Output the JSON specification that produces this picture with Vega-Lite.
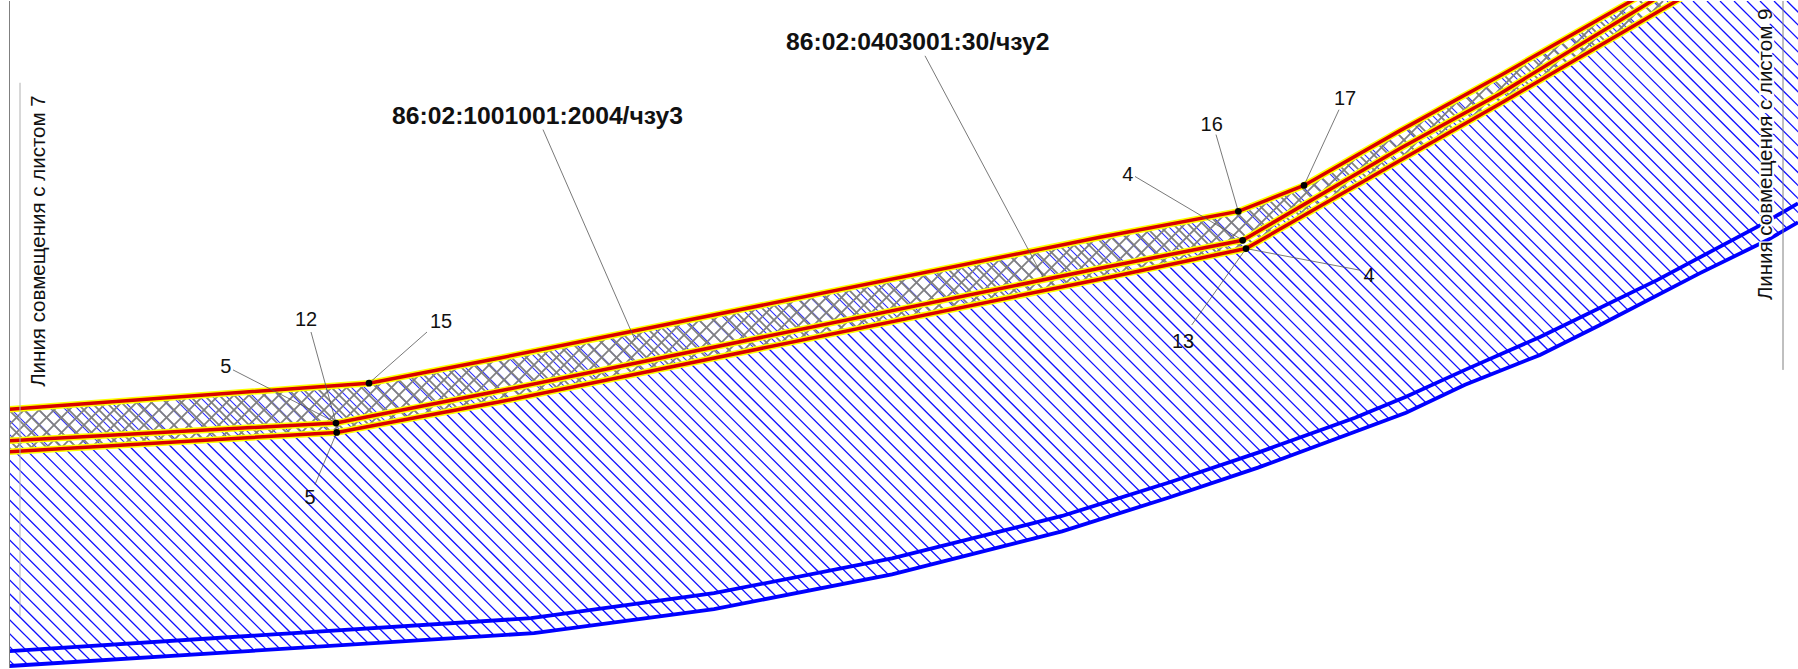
{"$schema":"https://vega.github.io/schema/vega-lite/v6.json","width":1798,"height":669,"padding":0,"autosize":{"type":"fit","contains":"padding"},"background":"white","config":{"view":{"stroke":null}},
"datasets":{
"blue":[{"x":-665,"x2":4},{"x":-652,"x2":17},{"x":-638,"x2":31},{"x":-625,"x2":44},{"x":-611,"x2":58},{"x":-598,"x2":71},{"x":-585,"x2":84},{"x":-571,"x2":98},{"x":-558,"x2":111},{"x":-544,"x2":125},{"x":-531,"x2":138},{"x":-518,"x2":151},{"x":-504,"x2":165},{"x":-491,"x2":178},{"x":-477,"x2":192},{"x":-464,"x2":205},{"x":-451,"x2":218},{"x":-437,"x2":232},{"x":-424,"x2":245},{"x":-410,"x2":259},{"x":-397,"x2":272},{"x":-384,"x2":285},{"x":-370,"x2":299},{"x":-357,"x2":312},{"x":-343,"x2":326},{"x":-330,"x2":339},{"x":-317,"x2":352},{"x":-303,"x2":366},{"x":-290,"x2":379},{"x":-276,"x2":393},{"x":-263,"x2":406},{"x":-250,"x2":419},{"x":-236,"x2":433},{"x":-223,"x2":446},{"x":-209,"x2":460},{"x":-196,"x2":473},{"x":-183,"x2":486},{"x":-169,"x2":500},{"x":-156,"x2":513},{"x":-142,"x2":527},{"x":-129,"x2":540},{"x":-116,"x2":553},{"x":-102,"x2":567},{"x":-89,"x2":580},{"x":-75,"x2":594},{"x":-62,"x2":607},{"x":-49,"x2":620},{"x":-35,"x2":634},{"x":-22,"x2":647},{"x":-8,"x2":661},{"x":5,"x2":674},{"x":18,"x2":687},{"x":32,"x2":701},{"x":45,"x2":714},{"x":59,"x2":728},{"x":72,"x2":741},{"x":85,"x2":754},{"x":99,"x2":768},{"x":112,"x2":781},{"x":126,"x2":795},{"x":139,"x2":808},{"x":152,"x2":821},{"x":166,"x2":835},{"x":179,"x2":848},{"x":193,"x2":862},{"x":206,"x2":875},{"x":219,"x2":888},{"x":233,"x2":902},{"x":246,"x2":915},{"x":260,"x2":929},{"x":273,"x2":942},{"x":286,"x2":955},{"x":300,"x2":969},{"x":313,"x2":982},{"x":327,"x2":996},{"x":340,"x2":1009},{"x":353,"x2":1022},{"x":367,"x2":1036},{"x":380,"x2":1049},{"x":394,"x2":1063},{"x":407,"x2":1076},{"x":420,"x2":1089},{"x":434,"x2":1103},{"x":447,"x2":1116},{"x":461,"x2":1130},{"x":474,"x2":1143},{"x":487,"x2":1156},{"x":501,"x2":1170},{"x":514,"x2":1183},{"x":528,"x2":1197},{"x":541,"x2":1210},{"x":554,"x2":1223},{"x":568,"x2":1237},{"x":581,"x2":1250},{"x":595,"x2":1264},{"x":608,"x2":1277},{"x":621,"x2":1290},{"x":635,"x2":1304},{"x":648,"x2":1317},{"x":662,"x2":1331},{"x":675,"x2":1344},{"x":688,"x2":1357},{"x":702,"x2":1371},{"x":715,"x2":1384},{"x":729,"x2":1398},{"x":742,"x2":1411},{"x":755,"x2":1424},{"x":769,"x2":1438},{"x":782,"x2":1451},{"x":796,"x2":1465},{"x":809,"x2":1478},{"x":822,"x2":1491},{"x":836,"x2":1505},{"x":849,"x2":1518},{"x":863,"x2":1532},{"x":876,"x2":1545},{"x":889,"x2":1558},{"x":903,"x2":1572},{"x":916,"x2":1585},{"x":930,"x2":1599},{"x":943,"x2":1612},{"x":956,"x2":1625},{"x":970,"x2":1639},{"x":983,"x2":1652},{"x":997,"x2":1666},{"x":1010,"x2":1679},{"x":1023,"x2":1692},{"x":1037,"x2":1706},{"x":1050,"x2":1719},{"x":1064,"x2":1733},{"x":1077,"x2":1746},{"x":1090,"x2":1759},{"x":1104,"x2":1773},{"x":1117,"x2":1786},{"x":1131,"x2":1800},{"x":1144,"x2":1813},{"x":1157,"x2":1826},{"x":1171,"x2":1840},{"x":1184,"x2":1853},{"x":1198,"x2":1867},{"x":1211,"x2":1880},{"x":1224,"x2":1893},{"x":1238,"x2":1907},{"x":1251,"x2":1920},{"x":1265,"x2":1934},{"x":1278,"x2":1947},{"x":1291,"x2":1960},{"x":1305,"x2":1974},{"x":1318,"x2":1987},{"x":1332,"x2":2001},{"x":1345,"x2":2014},{"x":1358,"x2":2027},{"x":1372,"x2":2041},{"x":1385,"x2":2054},{"x":1399,"x2":2068},{"x":1412,"x2":2081},{"x":1425,"x2":2094},{"x":1439,"x2":2108},{"x":1452,"x2":2121},{"x":1466,"x2":2135},{"x":1479,"x2":2148},{"x":1492,"x2":2161},{"x":1506,"x2":2175},{"x":1519,"x2":2188},{"x":1533,"x2":2202},{"x":1546,"x2":2215},{"x":1559,"x2":2228},{"x":1573,"x2":2242},{"x":1586,"x2":2255},{"x":1600,"x2":2269},{"x":1613,"x2":2282},{"x":1626,"x2":2295},{"x":1640,"x2":2309},{"x":1653,"x2":2322},{"x":1667,"x2":2336}],
"blueLow":[{"x":-665,"y":0,"x2":4,"y2":669},{"x":-652,"y":0,"x2":17,"y2":669},{"x":-638,"y":0,"x2":31,"y2":669},{"x":-625,"y":0,"x2":44,"y2":669},{"x":-611,"y":0,"x2":58,"y2":669},{"x":-598,"y":0,"x2":71,"y2":669},{"x":-585,"y":0,"x2":84,"y2":669},{"x":-571,"y":0,"x2":98,"y2":669},{"x":-558,"y":0,"x2":111,"y2":669},{"x":-544,"y":0,"x2":125,"y2":669},{"x":-531,"y":0,"x2":138,"y2":669},{"x":-518,"y":0,"x2":151,"y2":669},{"x":-504,"y":0,"x2":165,"y2":669},{"x":-491,"y":0,"x2":178,"y2":669},{"x":-477,"y":0,"x2":192,"y2":669},{"x":-464,"y":0,"x2":205,"y2":669},{"x":-451,"y":0,"x2":218,"y2":669},{"x":15,"y":452,"x2":232,"y2":669},{"x":27,"y":451,"x2":245,"y2":669},{"x":40,"y":450,"x2":259,"y2":669},{"x":53,"y":450,"x2":272,"y2":669},{"x":65,"y":449,"x2":285,"y2":669},{"x":78,"y":448,"x2":299,"y2":669},{"x":90,"y":447,"x2":312,"y2":669},{"x":104,"y":447,"x2":326,"y2":669},{"x":116,"y":446,"x2":339,"y2":669},{"x":128,"y":445,"x2":352,"y2":669},{"x":141,"y":444,"x2":366,"y2":669},{"x":154,"y":444,"x2":379,"y2":669},{"x":167,"y":443,"x2":393,"y2":669},{"x":179,"y":442,"x2":406,"y2":669},{"x":191,"y":441,"x2":419,"y2":669},{"x":205,"y":441,"x2":433,"y2":669},{"x":217,"y":440,"x2":446,"y2":669},{"x":230,"y":439,"x2":460,"y2":669},{"x":242,"y":438,"x2":473,"y2":669},{"x":255,"y":438,"x2":486,"y2":669},{"x":268,"y":437,"x2":500,"y2":669},{"x":280,"y":436,"x2":513,"y2":669},{"x":293,"y":435,"x2":527,"y2":669},{"x":306,"y":435,"x2":540,"y2":669},{"x":318,"y":434,"x2":553,"y2":669},{"x":331,"y":433,"x2":567,"y2":669},{"x":343,"y":432,"x2":580,"y2":669},{"x":354,"y":429,"x2":594,"y2":669},{"x":365,"y":427,"x2":607,"y2":669},{"x":376,"y":425,"x2":620,"y2":669},{"x":388,"y":423,"x2":634,"y2":669},{"x":399,"y":421,"x2":647,"y2":669},{"x":411,"y":419,"x2":661,"y2":669},{"x":422,"y":417,"x2":674,"y2":669},{"x":433,"y":415,"x2":687,"y2":669},{"x":445,"y":413,"x2":701,"y2":669},{"x":455,"y":410,"x2":714,"y2":669},{"x":467,"y":408,"x2":728,"y2":669},{"x":478,"y":406,"x2":741,"y2":669},{"x":489,"y":404,"x2":754,"y2":669},{"x":501,"y":402,"x2":768,"y2":669},{"x":512,"y":400,"x2":781,"y2":669},{"x":523,"y":397,"x2":795,"y2":669},{"x":534,"y":395,"x2":808,"y2":669},{"x":545,"y":393,"x2":821,"y2":669},{"x":556,"y":390,"x2":835,"y2":669},{"x":567,"y":388,"x2":848,"y2":669},{"x":579,"y":386,"x2":862,"y2":669},{"x":590,"y":384,"x2":875,"y2":669},{"x":600,"y":381,"x2":888,"y2":669},{"x":612,"y":379,"x2":902,"y2":669},{"x":623,"y":377,"x2":915,"y2":669},{"x":634,"y":374,"x2":929,"y2":669},{"x":645,"y":372,"x2":942,"y2":669},{"x":656,"y":370,"x2":955,"y2":669},{"x":668,"y":368,"x2":969,"y2":669},{"x":678,"y":365,"x2":982,"y2":669},{"x":690,"y":363,"x2":996,"y2":669},{"x":701,"y":361,"x2":1009,"y2":669},{"x":712,"y":359,"x2":1022,"y2":669},{"x":723,"y":356,"x2":1036,"y2":669},{"x":734,"y":354,"x2":1049,"y2":669},{"x":746,"y":352,"x2":1063,"y2":669},{"x":756,"y":349,"x2":1076,"y2":669},{"x":767,"y":347,"x2":1089,"y2":669},{"x":779,"y":345,"x2":1103,"y2":669},{"x":790,"y":343,"x2":1116,"y2":669},{"x":801,"y":340,"x2":1130,"y2":669},{"x":812,"y":338,"x2":1143,"y2":669},{"x":823,"y":336,"x2":1156,"y2":669},{"x":834,"y":333,"x2":1170,"y2":669},{"x":845,"y":331,"x2":1183,"y2":669},{"x":857,"y":329,"x2":1197,"y2":669},{"x":868,"y":327,"x2":1210,"y2":669},{"x":878,"y":324,"x2":1223,"y2":669},{"x":890,"y":322,"x2":1237,"y2":669},{"x":901,"y":320,"x2":1250,"y2":669},{"x":912,"y":317,"x2":1264,"y2":669},{"x":923,"y":315,"x2":1277,"y2":669},{"x":934,"y":313,"x2":1290,"y2":669},{"x":946,"y":311,"x2":1304,"y2":669},{"x":956,"y":308,"x2":1317,"y2":669},{"x":968,"y":306,"x2":1331,"y2":669},{"x":979,"y":304,"x2":1344,"y2":669},{"x":990,"y":302,"x2":1357,"y2":669},{"x":1001,"y":299,"x2":1371,"y2":669},{"x":1012,"y":297,"x2":1384,"y2":669},{"x":1024,"y":295,"x2":1398,"y2":669},{"x":1034,"y":292,"x2":1411,"y2":669},{"x":1045,"y":290,"x2":1424,"y2":669},{"x":1057,"y":288,"x2":1438,"y2":669},{"x":1068,"y":286,"x2":1451,"y2":669},{"x":1079,"y":283,"x2":1465,"y2":669},{"x":1090,"y":281,"x2":1478,"y2":669},{"x":1101,"y":279,"x2":1491,"y2":669},{"x":1112,"y":276,"x2":1505,"y2":669},{"x":1123,"y":274,"x2":1518,"y2":669},{"x":1135,"y":272,"x2":1532,"y2":669},{"x":1145,"y":269,"x2":1545,"y2":669},{"x":1156,"y":267,"x2":1558,"y2":669},{"x":1168,"y":265,"x2":1572,"y2":669},{"x":1178,"y":262,"x2":1585,"y2":669},{"x":1190,"y":260,"x2":1599,"y2":669},{"x":1201,"y":258,"x2":1612,"y2":669},{"x":1212,"y":256,"x2":1625,"y2":669},{"x":1223,"y":253,"x2":1639,"y2":669},{"x":1234,"y":251,"x2":1652,"y2":669},{"x":1245,"y":248,"x2":1666,"y2":669},{"x":1254,"y":244,"x2":1679,"y2":669},{"x":1262,"y":239,"x2":1692,"y2":669},{"x":1271,"y":234,"x2":1706,"y2":669},{"x":1279,"y":229,"x2":1719,"y2":669},{"x":1288,"y":224,"x2":1733,"y2":669},{"x":1296,"y":219,"x2":1746,"y2":669},{"x":1305,"y":215,"x2":1759,"y2":669},{"x":1314,"y":210,"x2":1773,"y2":669},{"x":1322,"y":205,"x2":1786,"y2":669},{"x":1331,"y":200,"x2":1800,"y2":669},{"x":1339,"y":195,"x2":1813,"y2":669},{"x":1347,"y":190,"x2":1826,"y2":669},{"x":1356,"y":185,"x2":1840,"y2":669},{"x":1364,"y":180,"x2":1853,"y2":669},{"x":1373,"y":175,"x2":1867,"y2":669},{"x":1382,"y":171,"x2":1880,"y2":669},{"x":1390,"y":166,"x2":1893,"y2":669},{"x":1399,"y":161,"x2":1907,"y2":669},{"x":1407,"y":156,"x2":1920,"y2":669},{"x":1416,"y":151,"x2":1934,"y2":669},{"x":1424,"y":146,"x2":1947,"y2":669},{"x":1432,"y":141,"x2":1960,"y2":669},{"x":1441,"y":136,"x2":1974,"y2":669},{"x":1450,"y":132,"x2":1987,"y2":669},{"x":1459,"y":127,"x2":2001,"y2":669},{"x":1467,"y":122,"x2":2014,"y2":669},{"x":1475,"y":117,"x2":2027,"y2":669},{"x":1484,"y":112,"x2":2041,"y2":669},{"x":1492,"y":107,"x2":2054,"y2":669},{"x":1501,"y":102,"x2":2068,"y2":669},{"x":1510,"y":98,"x2":2081,"y2":669},{"x":1518,"y":93,"x2":2094,"y2":669},{"x":1527,"y":88,"x2":2108,"y2":669},{"x":1535,"y":83,"x2":2121,"y2":669},{"x":1544,"y":78,"x2":2135,"y2":669},{"x":1552,"y":73,"x2":2148,"y2":669},{"x":1560,"y":68,"x2":2161,"y2":669},{"x":1569,"y":63,"x2":2175,"y2":669},{"x":1577,"y":58,"x2":2188,"y2":669},{"x":1586,"y":53,"x2":2202,"y2":669},{"x":1594,"y":48,"x2":2215,"y2":669},{"x":1602,"y":43,"x2":2228,"y2":669},{"x":1611,"y":38,"x2":2242,"y2":669},{"x":1619,"y":33,"x2":2255,"y2":669},{"x":1628,"y":28,"x2":2269,"y2":669},{"x":1636,"y":23,"x2":2282,"y2":669},{"x":1645,"y":19,"x2":2295,"y2":669},{"x":1653,"y":13,"x2":2309,"y2":669},{"x":1662,"y":9,"x2":2322,"y2":669},{"x":1671,"y":4,"x2":2336,"y2":669},{"x":1680,"y":0,"x2":2349,"y2":669},{"x":1693,"y":0,"x2":2362,"y2":669},{"x":1707,"y":0,"x2":2376,"y2":669},{"x":1720,"y":0,"x2":2389,"y2":669},{"x":1734,"y":0,"x2":2403,"y2":669},{"x":1747,"y":0,"x2":2416,"y2":669},{"x":1760,"y":0,"x2":2429,"y2":669},{"x":1774,"y":0,"x2":2443,"y2":669},{"x":1787,"y":0,"x2":2456,"y2":669}],
"greyUp":[{"x":418,"x2":-251},{"x":433,"x2":-236},{"x":448,"x2":-221},{"x":463,"x2":-206},{"x":478,"x2":-191},{"x":493,"x2":-176},{"x":508,"x2":-161},{"x":523,"x2":-146},{"x":538,"x2":-131},{"x":553,"x2":-116},{"x":568,"x2":-101},{"x":583,"x2":-86},{"x":598,"x2":-71},{"x":613,"x2":-56},{"x":628,"x2":-41},{"x":643,"x2":-26},{"x":658,"x2":-11},{"x":673,"x2":4},{"x":688,"x2":19},{"x":703,"x2":34},{"x":718,"x2":49},{"x":733,"x2":64},{"x":748,"x2":79},{"x":763,"x2":94},{"x":778,"x2":109},{"x":793,"x2":124},{"x":808,"x2":139},{"x":823,"x2":154},{"x":838,"x2":169},{"x":853,"x2":184},{"x":868,"x2":199},{"x":883,"x2":214},{"x":898,"x2":229},{"x":913,"x2":244},{"x":928,"x2":259},{"x":943,"x2":274},{"x":958,"x2":289},{"x":973,"x2":304},{"x":988,"x2":319},{"x":1003,"x2":334},{"x":1018,"x2":349},{"x":1033,"x2":364},{"x":1048,"x2":379},{"x":1063,"x2":394},{"x":1078,"x2":409},{"x":1093,"x2":424},{"x":1108,"x2":439},{"x":1123,"x2":454},{"x":1138,"x2":469},{"x":1153,"x2":484},{"x":1168,"x2":499},{"x":1183,"x2":514},{"x":1198,"x2":529},{"x":1213,"x2":544},{"x":1228,"x2":559},{"x":1243,"x2":574},{"x":1258,"x2":589},{"x":1273,"x2":604},{"x":1288,"x2":619},{"x":1303,"x2":634},{"x":1318,"x2":649},{"x":1333,"x2":664},{"x":1348,"x2":679},{"x":1363,"x2":694},{"x":1378,"x2":709},{"x":1393,"x2":724},{"x":1408,"x2":739},{"x":1423,"x2":754},{"x":1438,"x2":769},{"x":1453,"x2":784},{"x":1468,"x2":799},{"x":1483,"x2":814},{"x":1498,"x2":829},{"x":1513,"x2":844},{"x":1528,"x2":859},{"x":1543,"x2":874},{"x":1558,"x2":889},{"x":1573,"x2":904},{"x":1588,"x2":919},{"x":1603,"x2":934},{"x":1618,"x2":949},{"x":1633,"x2":964},{"x":1648,"x2":979},{"x":1663,"x2":994},{"x":1678,"x2":1009}],
"greyDown":[{"x":-445,"x2":224},{"x":-430,"x2":239},{"x":-415,"x2":254},{"x":-400,"x2":269},{"x":-385,"x2":284},{"x":-370,"x2":299},{"x":-355,"x2":314},{"x":-340,"x2":329},{"x":-325,"x2":344},{"x":-310,"x2":359},{"x":-295,"x2":374},{"x":-280,"x2":389},{"x":-265,"x2":404},{"x":-250,"x2":419},{"x":-235,"x2":434},{"x":-220,"x2":449},{"x":-205,"x2":464},{"x":-190,"x2":479},{"x":-175,"x2":494},{"x":-160,"x2":509},{"x":-145,"x2":524},{"x":-130,"x2":539},{"x":-115,"x2":554},{"x":-100,"x2":569},{"x":-85,"x2":584},{"x":-70,"x2":599},{"x":-55,"x2":614},{"x":-40,"x2":629},{"x":-25,"x2":644},{"x":-10,"x2":659},{"x":5,"x2":674},{"x":20,"x2":689},{"x":35,"x2":704},{"x":50,"x2":719},{"x":65,"x2":734},{"x":80,"x2":749},{"x":95,"x2":764},{"x":110,"x2":779},{"x":125,"x2":794},{"x":140,"x2":809},{"x":155,"x2":824},{"x":170,"x2":839},{"x":185,"x2":854},{"x":200,"x2":869},{"x":215,"x2":884},{"x":230,"x2":899},{"x":245,"x2":914},{"x":260,"x2":929},{"x":275,"x2":944},{"x":290,"x2":959},{"x":305,"x2":974},{"x":320,"x2":989},{"x":335,"x2":1004},{"x":350,"x2":1019},{"x":365,"x2":1034},{"x":380,"x2":1049},{"x":395,"x2":1064},{"x":410,"x2":1079},{"x":425,"x2":1094},{"x":440,"x2":1109},{"x":455,"x2":1124},{"x":470,"x2":1139},{"x":485,"x2":1154},{"x":500,"x2":1169},{"x":515,"x2":1184},{"x":530,"x2":1199},{"x":545,"x2":1214},{"x":560,"x2":1229},{"x":575,"x2":1244},{"x":590,"x2":1259},{"x":605,"x2":1274},{"x":620,"x2":1289},{"x":635,"x2":1304},{"x":650,"x2":1319},{"x":665,"x2":1334},{"x":680,"x2":1349},{"x":695,"x2":1364},{"x":710,"x2":1379},{"x":725,"x2":1394},{"x":740,"x2":1409},{"x":755,"x2":1424},{"x":770,"x2":1439},{"x":785,"x2":1454},{"x":800,"x2":1469},{"x":815,"x2":1484},{"x":830,"x2":1499},{"x":845,"x2":1514},{"x":860,"x2":1529},{"x":875,"x2":1544},{"x":890,"x2":1559},{"x":905,"x2":1574},{"x":920,"x2":1589},{"x":935,"x2":1604},{"x":950,"x2":1619},{"x":965,"x2":1634},{"x":980,"x2":1649},{"x":995,"x2":1664},{"x":1010,"x2":1679},{"x":1025,"x2":1694},{"x":1040,"x2":1709},{"x":1055,"x2":1724},{"x":1070,"x2":1739},{"x":1085,"x2":1754},{"x":1100,"x2":1769},{"x":1115,"x2":1784},{"x":1130,"x2":1799},{"x":1145,"x2":1814},{"x":1160,"x2":1829},{"x":1175,"x2":1844},{"x":1190,"x2":1859},{"x":1205,"x2":1874},{"x":1220,"x2":1889},{"x":1235,"x2":1904},{"x":1250,"x2":1919},{"x":1265,"x2":1934},{"x":1280,"x2":1949},{"x":1295,"x2":1964},{"x":1310,"x2":1979},{"x":1325,"x2":1994},{"x":1340,"x2":2009},{"x":1355,"x2":2024},{"x":1370,"x2":2039},{"x":1385,"x2":2054},{"x":1400,"x2":2069},{"x":1415,"x2":2084},{"x":1430,"x2":2099},{"x":1445,"x2":2114},{"x":1460,"x2":2129},{"x":1475,"x2":2144},{"x":1490,"x2":2159},{"x":1505,"x2":2174},{"x":1520,"x2":2189},{"x":1535,"x2":2204},{"x":1550,"x2":2219},{"x":1565,"x2":2234},{"x":1580,"x2":2249},{"x":1595,"x2":2264},{"x":1610,"x2":2279},{"x":1625,"x2":2294},{"x":1640,"x2":2309},{"x":1655,"x2":2324},{"x":1670,"x2":2339}],
"top":[{"x":9.5,"y":409.5,"y2":0},{"x":369,"y":383.3,"y2":0},{"x":500,"y":358,"y2":0},{"x":1100,"y":237,"y2":0},{"x":1238.3,"y":211,"y2":0},{"x":1304,"y":185,"y2":0},{"x":1400,"y":130,"y2":0},{"x":1500,"y":75,"y2":0},{"x":1640,"y":-5,"y2":0},{"x":1798,"y":-95,"y2":0}],
"mid":[{"x":9.5,"y":441},{"x":336,"y":423.3},{"x":500,"y":391},{"x":1100,"y":268},{"x":1242.7,"y":240},{"x":1400,"y":148},{"x":1500,"y":93},{"x":1660,"y":-5}],
"low":[{"x":9.5,"y":452,"y2":669},{"x":336.7,"y":432.7,"y2":669},{"x":500,"y":402,"y2":669},{"x":1100,"y":279,"y2":669},{"x":1246,"y":248.3,"y2":669},{"x":1400,"y":160,"y2":669},{"x":1500,"y":103,"y2":669},{"x":1685,"y":-5,"y2":669},{"x":1798,"y":-70,"y2":669}],
"blue1":[{"x":9.5,"y":652},{"x":531,"y":619},{"x":714,"y":594},{"x":892,"y":559},{"x":1062,"y":516.5},{"x":1169,"y":483},{"x":1258,"y":453},{"x":1355,"y":418},{"x":1406,"y":397},{"x":1465,"y":370},{"x":1540,"y":337},{"x":1657,"y":280},{"x":1760,"y":225},{"x":1798,"y":203}],
"blue2":[{"x":9.5,"y":667,"y2":669},{"x":534,"y":634,"y2":669},{"x":714,"y":610,"y2":669},{"x":892,"y":575,"y2":669},{"x":1062,"y":532,"y2":669},{"x":1169,"y":498,"y2":669},{"x":1258,"y":468,"y2":669},{"x":1355,"y":432,"y2":669},{"x":1406,"y":413,"y2":669},{"x":1465,"y":385,"y2":669},{"x":1540,"y":355,"y2":669},{"x":1600,"y":325,"y2":669},{"x":1700,"y":273,"y2":669},{"x":1767,"y":240,"y2":669},{"x":1798,"y":222,"y2":669}],
"leaders":[{"x":233,"y":370,"x2":336,"y2":423},{"x":311,"y":332,"x2":336,"y2":423},{"x":315,"y":485,"x2":336.7,"y2":432.7},{"x":427,"y":332,"x2":369,"y2":383.3},{"x":543,"y":129,"x2":635,"y2":340},{"x":925,"y":55,"x2":1043,"y2":277},{"x":1135,"y":176,"x2":1242.7,"y2":240},{"x":1216,"y":134,"x2":1238.3,"y2":211},{"x":1339,"y":109,"x2":1304,"y2":185},{"x":1360,"y":270,"x2":1246,"y2":248.3},{"x":1191.7,"y":325,"x2":1246,"y2":248.3}],
"dots":[{"x":369,"y":383.3},{"x":336,"y":423.3},{"x":336.7,"y":432.7},{"x":1238.3,"y":211},{"x":1304,"y":185},{"x":1242.7,"y":240},{"x":1246,"y":248.3}],
"small":[{"x":225.7,"y":373,"t":"5"},{"x":306,"y":326,"t":"12"},{"x":441,"y":328,"t":"15"},{"x":310,"y":505,"t":"5"},{"x":1211.7,"y":130,"t":"16"},{"x":1345,"y":104,"t":"17"},{"x":1127.7,"y":181,"t":"4"},{"x":1369,"y":281.7,"t":"4"},{"x":1183,"y":347.7,"t":"13"}],
"big":[{"x":392,"y":123,"t":"86:02:1001001:2004/чзу3"},{"x":786,"y":49,"t":"86:02:0403001:30/чзу2"}],
"rot":[{"x":44.5,"y":387,"t":"Линия совмещения с листом 7"},{"x":1771.5,"y":300,"t":"Линия совмещения с листом 9"}]
},
"encoding":{"x":{"field":"x","type":"quantitative","scale":{"domain":[0,1798],"nice":false,"zero":false},"axis":null},"y":{"field":"y","type":"quantitative","scale":{"domain":[669,0],"nice":false,"zero":false},"axis":null}},
"layer":[
{"data":{"name":"blue"},"mark":{"type":"rule","clip":true,"color":"#2a2aff","strokeWidth":1.1},"encoding":{"x2":{"field":"x2"},"y":{"value":0},"y2":{"value":669}}},
{"data":{"name":"greyUp"},"mark":{"type":"rule","clip":true,"color":"#808080","strokeWidth":1.8},"encoding":{"x2":{"field":"x2"},"y":{"value":0},"y2":{"value":669}}},
{"data":{"name":"greyDown"},"mark":{"type":"rule","clip":true,"color":"#808080","strokeWidth":1.8},"encoding":{"x2":{"field":"x2"},"y":{"value":0},"y2":{"value":669}}},
{"data":{"name":"low"},"mark":{"type":"area","clip":true,"color":"white","opacity":1},"encoding":{"y2":{"field":"y2"}}},
{"data":{"name":"blueLow"},"mark":{"type":"rule","clip":true,"color":"#1010ff","strokeWidth":1.3},"encoding":{"x2":{"field":"x2"},"y2":{"field":"y2"}}},
{"data":{"name":"top"},"mark":{"type":"area","clip":true,"color":"white","opacity":1},"encoding":{"y2":{"field":"y2"}}},
{"data":{"name":"blue2"},"mark":{"type":"area","clip":true,"color":"white","opacity":1},"encoding":{"y2":{"field":"y2"}}},
{"data":{"values":[{"x":0,"x2":9.5}]},"mark":{"type":"rect","color":"white"},"encoding":{"x2":{"field":"x2"},"y":{"value":0},"y2":{"value":669}}},
{"data":{"name":"top"},"mark":{"type":"line","clip":true,"color":"#ffff00","strokeWidth":6.5}},
{"data":{"name":"mid"},"mark":{"type":"line","clip":true,"color":"#ffff00","strokeWidth":6.5}},
{"data":{"name":"low"},"mark":{"type":"line","clip":true,"color":"#ffff00","strokeWidth":6.5}},
{"data":{"name":"top"},"mark":{"type":"line","clip":true,"color":"#d80000","strokeWidth":3.5}},
{"data":{"name":"mid"},"mark":{"type":"line","clip":true,"color":"#d80000","strokeWidth":3.5}},
{"data":{"name":"low"},"mark":{"type":"line","clip":true,"color":"#d80000","strokeWidth":3.5}},
{"data":{"name":"blue1"},"mark":{"type":"line","clip":true,"color":"#0000ff","strokeWidth":3.8}},
{"data":{"name":"blue2"},"mark":{"type":"line","clip":true,"color":"#0000ff","strokeWidth":3.8}},
{"data":{"name":"leaders"},"mark":{"type":"rule","color":"#555555","strokeWidth":0.8},"encoding":{"x2":{"field":"x2"},"y2":{"field":"y2"}}},
{"data":{"values":[{"x":9.5,"y":0,"x2":9.5,"y2":669},{"x":1783,"y":0,"x2":1783,"y2":370}]},"mark":{"type":"rule","color":"#808080","strokeWidth":1},"encoding":{"x2":{"field":"x2"},"y2":{"field":"y2"}}},
{"data":{"values":[{"x":20,"y":82,"x2":20,"y2":617}]},"mark":{"type":"rule","color":"#b0b0b0","strokeWidth":1},"encoding":{"x2":{"field":"x2"},"y2":{"field":"y2"}}},
{"data":{"name":"dots"},"mark":{"type":"circle","color":"#000000","opacity":1,"size":45}},
{"data":{"name":"small"},"mark":{"type":"text","font":"Liberation Sans","fontSize":20,"align":"center","baseline":"alphabetic","color":"#111111"},"encoding":{"text":{"field":"t"}}},
{"data":{"name":"big"},"mark":{"type":"text","font":"Liberation Sans","fontSize":24.7,"fontWeight":"bold","align":"left","baseline":"alphabetic","color":"#111111"},"encoding":{"text":{"field":"t"}}},
{"data":{"values":[{"x":1771.5,"y":300,"t":"Линия совмещения с листом 9"}]},"mark":{"type":"text","font":"Liberation Sans","fontSize":20.3,"angle":270,"align":"left","baseline":"alphabetic","color":"white","stroke":"white","strokeWidth":4},"encoding":{"text":{"field":"t"}}},
{"data":{"name":"rot"},"mark":{"type":"text","font":"Liberation Sans","fontSize":20.5,"angle":270,"align":"left","baseline":"alphabetic","color":"#111111"},"encoding":{"text":{"field":"t"}}}
]}
